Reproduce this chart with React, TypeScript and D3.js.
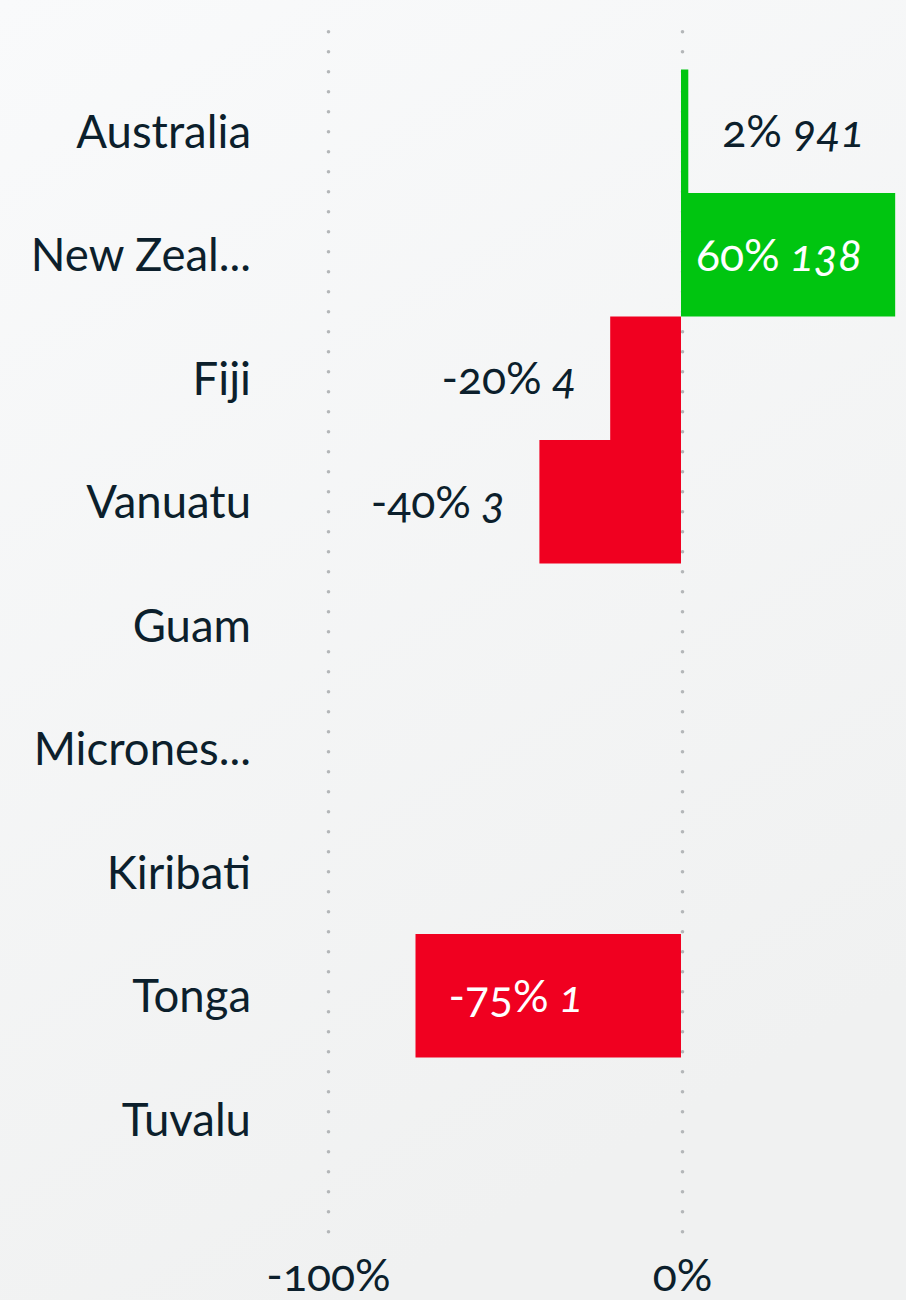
import React from "react";
import * as d3 from "d3";

const categories = ["Australia", "New Zeal...", "Fiji", "Vanuatu", "Guam", "Micrones...", "Kiribati", "Tonga", "Tuvalu"];
const changes: (number | null)[] = [0.0206, 0.605, -0.2, -0.4, null, null, null, -0.75, null];
const pctLabels: (string | null)[] = ["2%", "60%", "-20%", "-40%", null, null, null, "-75%", null];
const counts: (string | null)[] = ["941", "138", "4", "3", null, null, null, "1", null];
const tickValues = [-1, 0];
const tickLabels = ["-100%", "0%"];

const W = 906;
const H = 1300;
const FONT = "Lato, 'Open Sans', sans-serif";
const TEXT = "#0c1f2c";
const GREEN = "#00c510";
const RED = "#f00020";

export default function App() {
  const x = d3.scaleLinear().domain([-1, 0]).range([327, 681]);
  const y = d3.scaleBand<string>().domain(categories).range([69.5, 1181]).padding(0);
  const bw = y.bandwidth();
  const catFs = 45.5;
  const valFs = 44.5;

  return (
    <svg width={W} height={H} style={{ position: "absolute", left: 0, top: 0, display: "block" }}>
      <defs>
        <linearGradient id="bg" x1="0" y1="0" x2="0.4" y2="1">
          <stop offset="0" stopColor="#f9fafb" />
          <stop offset="1" stopColor="#f0f1f1" />
        </linearGradient>
      </defs>
      <rect x={0} y={0} width={W} height={H} fill="url(#bg)" />
      {tickValues.map((t) => (
        <line
          key={"g" + t}
          x1={x(t) + 1.5}
          x2={x(t) + 1.5}
          y1={31.7}
          y2={1234}
          stroke="#b4b7b9"
          strokeWidth={3.6}
          strokeLinecap="round"
          strokeDasharray="0 20"
        />
      ))}
      {categories.map((c, i) => {
        const v = changes[i];
        if (v == null) return null;
        const x0 = x(Math.min(0, v));
        const x1 = x(Math.max(0, v));
        return <rect key={"b" + c} x={x0} y={y(c)} width={x1 - x0} height={bw} fill={v >= 0 ? GREEN : RED} />;
      })}
      {categories.map((c) => (
        <text
          key={"c" + c}
          x={251}
          y={(y(c) as number) + bw / 2}
          dy="0.36em"
          textAnchor="end"
          fontFamily={FONT}
          fontSize={catFs}
          fill={TEXT}
        >
          {c}
        </text>
      ))}
      {categories.map((c, i) => {
        const v = changes[i];
        if (v == null) return null;
        const end = x(v);
        const width = Math.abs(end - x(0));
        const inside = width > 200;
        const pos = v >= 0;
        let tx: number;
        let anchor: string;
        if (inside) {
          tx = pos ? end - 33 : end + 33;
          anchor = pos ? "end" : "start";
        } else {
          tx = pos ? end + 34 : end - 34;
          anchor = pos ? "start" : "end";
        }
        return (
          <text
            key={"v" + c}
            x={tx}
            y={(y(c) as number) + bw / 2}
            dy="0.36em"
            textAnchor={anchor}
            fontFamily={FONT}
            fontSize={valFs}
            fill={inside ? "#ffffff" : TEXT}
            style={{ fontVariantNumeric: "oldstyle-nums" }}
          >
            <tspan>{pctLabels[i]}</tspan>
            <tspan fontStyle="italic">{" " + counts[i]}</tspan>
          </text>
        );
      })}
      {tickValues.map((t, i) => (
        <text
          key={"t" + t}
          x={x(t) + 1.5}
          y={1291}
          textAnchor="middle"
          fontFamily={FONT}
          fontSize={valFs}
          fill={TEXT}
          style={{ fontVariantNumeric: "oldstyle-nums" }}
        >
          {tickLabels[i]}
        </text>
      ))}
    </svg>
  );
}
